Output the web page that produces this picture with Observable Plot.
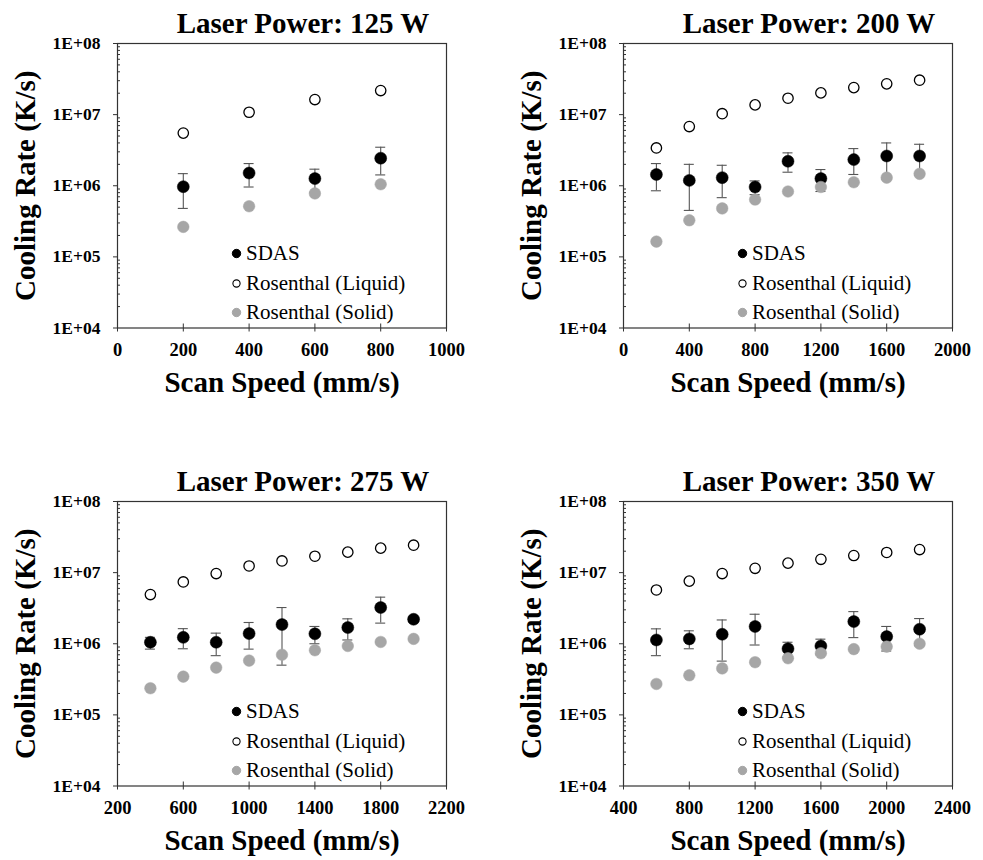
<!DOCTYPE html>
<html>
<head>
<meta charset="utf-8">
<script src="https://cdn.jsdelivr.net/npm/d3@7"></script>
<script src="https://cdn.jsdelivr.net/npm/@observablehq/plot@0.6"></script>
<style>
  html, body { margin: 0; padding: 0; background: #fff; overflow: hidden; }
  #wrap { position: relative; width: 983px; height: 860px; background: #fff; }
  .panel { position: absolute; }
</style>
</head>
<body>
<div id="wrap"></div>
<script>
// ---------- Data ----------
const seriesNames = ["SDAS", "Rosenthal (Liquid)", "Rosenthal (Solid)"];
const yTicks = [1e4, 1e5, 1e6, 1e7, 1e8];

// Panel 1: 125 W
const title125 = "Laser Power: 125 W";
const speed125 = [200, 400, 600, 800];
const sdas125 = [0.97e6, 1.51e6, 1.26e6, 2.44e6];
const sdasHi125 = [1.48e6, 2.05e6, 1.71e6, 3.48e6];
const sdasLo125 = [4.8e5, 9.6e5, 8.1e5, 1.42e6];
const liquid125 = [5.5e6, 1.08e7, 1.63e7, 2.18e7];
const solid125 = [2.64e5, 5.15e5, 7.8e5, 1.05e6];
const xDomain125 = [0, 1000];
const xTicks125 = [0, 200, 400, 600, 800, 1000];

// Panel 2: 200 W
const title200 = "Laser Power: 200 W";
const speed200 = [200, 400, 600, 800, 1000, 1200, 1400, 1600, 1800];
const sdas200 = [1.44e6, 1.19e6, 1.30e6, 0.96e6, 2.21e6, 1.26e6, 2.33e6, 2.62e6, 2.62e6];
const sdasHi200 = [2.05e6, 2.0e6, 1.94e6, 1.17e6, 2.9e6, 1.69e6, 3.33e6, 4.0e6, 3.83e6];
const sdasLo200 = [8.5e5, 4.5e5, 6.8e5, 7.5e5, 1.55e6, 8.3e5, 1.44e6, 1.24e6, 1.41e6];
const liquid200 = [3.4e6, 6.8e6, 1.03e7, 1.37e7, 1.70e7, 2.02e7, 2.40e7, 2.71e7, 3.05e7];
const solid200 = [1.64e5, 3.27e5, 4.8e5, 6.4e5, 8.3e5, 9.6e5, 1.12e6, 1.30e6, 1.47e6];
const xDomain200 = [0, 2000];
const xTicks200 = [0, 400, 800, 1200, 1600, 2000];

// Panel 3: 275 W
const title275 = "Laser Power: 275 W";
const speed275 = [400, 600, 800, 1000, 1200, 1400, 1600, 1800, 2000];
const sdas275 = [1.05e6, 1.23e6, 1.05e6, 1.39e6, 1.86e6, 1.38e6, 1.69e6, 3.23e6, 2.21e6];
const sdasHi275 = [1.23e6, 1.63e6, 1.41e6, 1.99e6, 3.23e6, 1.75e6, 2.24e6, 4.52e6, 2.38e6];
const sdasLo275 = [8.4e5, 8.5e5, 6.8e5, 8.4e5, 5.0e5, 1.0e6, 1.13e6, 1.95e6, 2.04e6];
const liquid275 = [4.92e6, 7.4e6, 9.7e6, 1.24e7, 1.46e7, 1.70e7, 1.94e7, 2.21e7, 2.43e7];
const solid275 = [2.37e5, 3.45e5, 4.62e5, 5.8e5, 7.0e5, 8.1e5, 9.3e5, 1.06e6, 1.17e6];
const xDomain275 = [200, 2200];
const xTicks275 = [200, 600, 1000, 1400, 1800, 2200];

// Panel 4: 350 W
const title350 = "Laser Power: 350 W";
const speed350 = [600, 800, 1000, 1200, 1400, 1600, 1800, 2000, 2200];
const sdas350 = [1.13e6, 1.17e6, 1.36e6, 1.75e6, 8.5e5, 9.3e5, 2.05e6, 1.26e6, 1.60e6];
const sdasHi350 = [1.62e6, 1.52e6, 2.16e6, 2.6e6, 1.05e6, 1.16e6, 2.83e6, 1.75e6, 2.26e6];
const sdasLo350 = [6.8e5, 8.5e5, 5.7e5, 9.6e5, 6.5e5, 7.0e5, 1.22e6, 7.9e5, 9.4e5];
const liquid350 = [5.7e6, 7.6e6, 9.7e6, 1.15e7, 1.36e7, 1.54e7, 1.74e7, 1.92e7, 2.11e7];
const solid350 = [2.72e5, 3.6e5, 4.5e5, 5.5e5, 6.25e5, 7.35e5, 8.4e5, 9.1e5, 1.0e6];
const xDomain350 = [400, 2400];
const xTicks350 = [400, 800, 1200, 1600, 2000, 2400];

// ---------- Build ----------
const panels = [
  {title: title125, speed: speed125, sdas: sdas125, hi: sdasHi125, lo: sdasLo125, liquid: liquid125, solid: solid125, domain: xDomain125, ticks: xTicks125, left: 0, top: 0},
  {title: title200, speed: speed200, sdas: sdas200, hi: sdasHi200, lo: sdasLo200, liquid: liquid200, solid: solid200, domain: xDomain200, ticks: xTicks200, left: 506, top: 0},
  {title: title275, speed: speed275, sdas: sdas275, hi: sdasHi275, lo: sdasLo275, liquid: liquid275, solid: solid275, domain: xDomain275, ticks: xTicks275, left: 0, top: 458},
  {title: title350, speed: speed350, sdas: sdas350, hi: sdasHi350, lo: sdasLo350, liquid: liquid350, solid: solid350, domain: xDomain350, ticks: xTicks350, left: 506, top: 458}
];

const minorTicks = [];
for (const d of [1e4, 1e5, 1e6, 1e7]) for (let m = 2; m <= 9; m++) minorTicks.push(d * m);

const W = 477, H = 430, ML = 117, MT = 43, PW = 329, PH = 284.5;
const GRAY = "#a6a6a6";
const BAR = "#555";
const FONT = "'Liberation Serif', 'Times New Roman', serif";

const legendY = [-74.5, -44.5, -15.5];
const legendStyles = [
  {fill: "#000", stroke: "#000", strokeWidth: 1},
  {fill: "#fff", stroke: "#000", strokeWidth: 1.1},
  {fill: GRAY, stroke: GRAY, strokeWidth: 1}
];

const wrap = document.getElementById("wrap");

for (const p of panels) {
  const sd = p.speed.map((s, i) => ({s, v: p.sdas[i], hi: p.hi[i], lo: p.lo[i]}));
  const lq = p.speed.map((s, i) => ({s, v: p.liquid[i]}));
  const so = p.speed.map((s, i) => ({s, v: p.solid[i]}));

  const legendMarks = [];
  seriesNames.forEach((name, k) => {
    legendMarks.push(Plot.dot([name], {frameAnchor: "bottom-left", dx: 119, dy: legendY[k], r: k === 1 ? 3.6 : 4.2, ...legendStyles[k]}));
    legendMarks.push(Plot.text([name], {text: d => d, frameAnchor: "bottom-left", dx: 128.5, dy: legendY[k], textAnchor: "start", lineAnchor: "middle", fontSize: 21, fill: "#000"}));
  });

  const chart = Plot.plot({
    width: W,
    height: H,
    marginLeft: ML,
    marginRight: W - ML - PW,
    marginTop: MT,
    marginBottom: H - MT - PH,
    style: {fontFamily: FONT, background: "#fff", color: "#000", overflow: "visible"},
    x: {domain: p.domain, label: null},
    y: {type: "log", domain: [1e4, 1e8], label: null},
    marks: [
      Plot.frame({stroke: "#333", strokeWidth: 1.2}),
      Plot.axisY({ticks: minorTicks, tickSize: 3, dx: 3, tickFormat: () => "", label: null, stroke: "#333"}),
      Plot.axisY({ticks: yTicks, tickSize: 4, tickPadding: 13, tickFormat: d => "1E+0" + Math.round(Math.log10(d)), label: null, fontSize: 17.5, fontWeight: "bold", stroke: "#333"}),
      Plot.axisX({ticks: p.ticks, tickSize: 8, dy: -4, tickPadding: 11, tickFormat: d => String(d), label: null, fontSize: 18.5, fontWeight: "bold", stroke: "#333"}),
      // error bars
      Plot.ruleX(sd, {x: "s", y1: "lo", y2: "hi", stroke: BAR, strokeWidth: 1.1}),
      Plot.ruleY(sd, {y: "hi", x1: "s", x2: "s", insetLeft: -5, insetRight: -5, stroke: BAR, strokeWidth: 1.1}),
      Plot.ruleY(sd, {y: "lo", x1: "s", x2: "s", insetLeft: -5, insetRight: -5, stroke: BAR, strokeWidth: 1.1}),
      // points
      Plot.dot(lq, {x: "s", y: "v", r: 5.2, fill: "#fff", stroke: "#000", strokeWidth: 1.3}),
      Plot.dot(sd, {x: "s", y: "v", r: 6, fill: "#000", stroke: "#000", strokeWidth: 0.5}),
      Plot.dot(so, {x: "s", y: "v", r: 5.8, fill: GRAY, stroke: GRAY, strokeWidth: 0.5}),
      // legend
      ...legendMarks,
      // titles
      Plot.text([p.title], {text: d => d, frameAnchor: "top", dx: 21, dy: -19.5, lineAnchor: "middle", fontSize: 29, fontWeight: "bold", fill: "#000"}),
      Plot.text(["Cooling Rate (K/s)"], {text: d => d, frameAnchor: "left", rotate: -90, dx: -92, textAnchor: "middle", lineAnchor: "middle", fontSize: 29, fontWeight: "bold", fill: "#000"}),
      Plot.text(["Scan Speed (mm/s)"], {text: d => d, frameAnchor: "bottom", dy: 55, lineAnchor: "middle", fontSize: 29, fontWeight: "bold", fill: "#000"})
    ]
  });

  const div = document.createElement("div");
  div.className = "panel";
  div.style.left = p.left + "px";
  div.style.top = p.top + "px";
  div.appendChild(chart);
  wrap.appendChild(div);
}
</script>
</body>
</html>
